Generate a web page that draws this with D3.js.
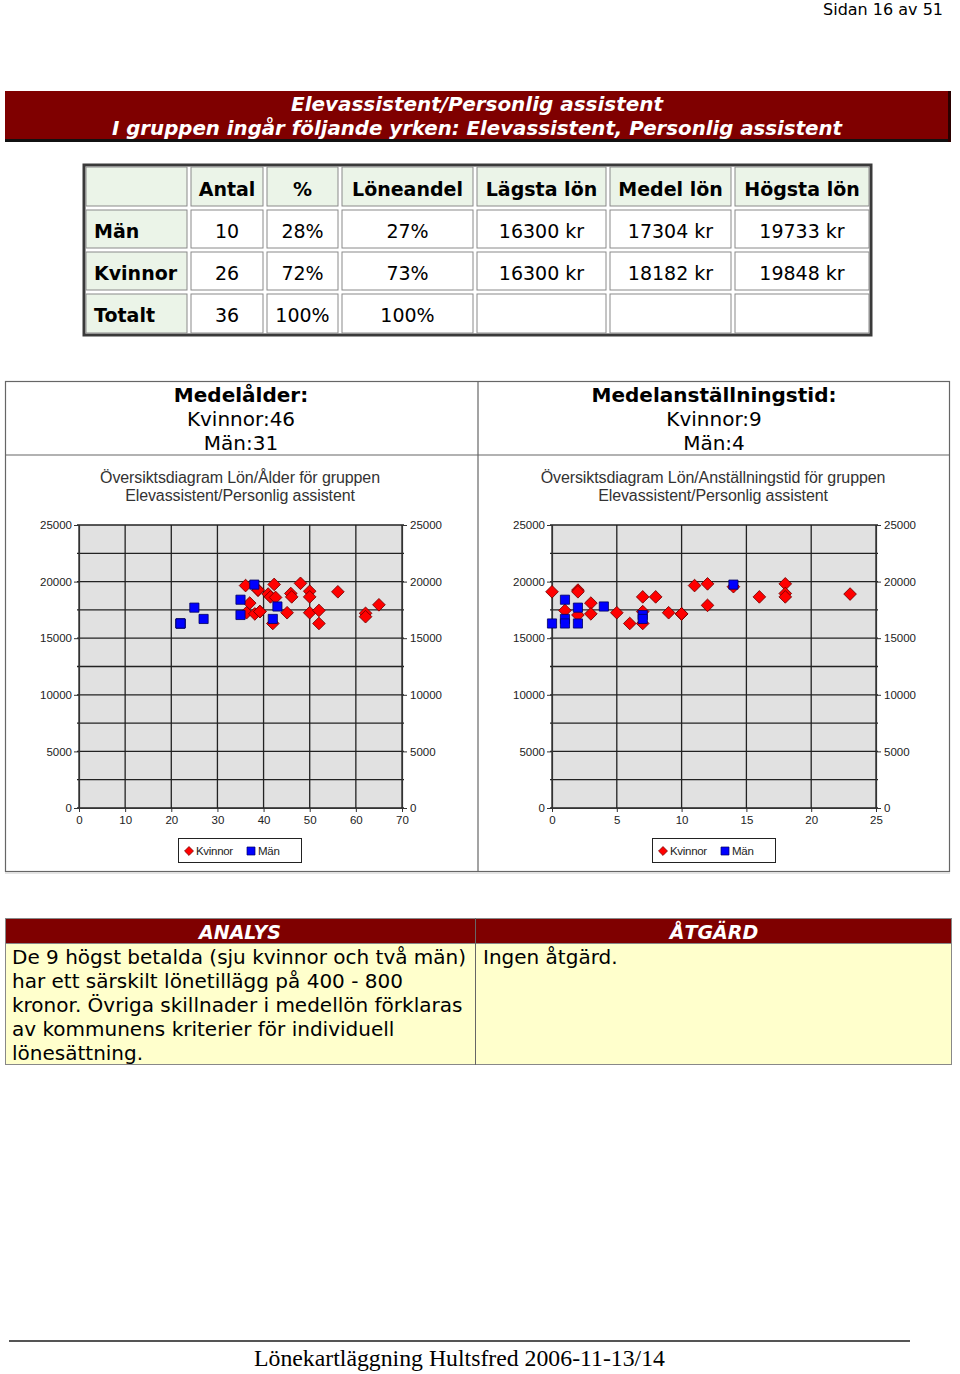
<!DOCTYPE html>
<html><head><meta charset="utf-8">
<script src="https://cdn.jsdelivr.net/npm/d3@7"></script>
<style>body{margin:0;background:#fff;} svg{display:block;}</style>
</head><body>
<script>
// ---------- DATA ----------
const pageLabel = "Sidan 16 av 51";
const headerLines = ["Elevassistent/Personlig assistent", "I gruppen ingår följande yrken: Elevassistent, Personlig assistent"];
const tableCols = ["Antal", "%", "Löneandel", "Lägsta lön", "Medel lön", "Högsta lön"];
const tableRows = ["Män", "Kvinnor", "Totalt"];
const tableMan = ["10", "28%", "27%", "16300 kr", "17304 kr", "19733 kr"];
const tableKvinnor = ["26", "72%", "73%", "16300 kr", "18182 kr", "19848 kr"];
const tableTotalt = ["36", "100%", "100%", "", "", ""];
const ageInfo = ["Medelålder:", "Kvinnor:46", "Män:31"];
const tenureInfo = ["Medelanställningstid:", "Kvinnor:9", "Män:4"];
const ageTitle = ["Översiktsdiagram Lön/Ålder för gruppen", "Elevassistent/Personlig assistent"];
const tenureTitle = ["Översiktsdiagram Lön/Anställningstid för gruppen", "Elevassistent/Personlig assistent"];
const salaryTicks = [0, 5000, 10000, 15000, 20000, 25000];
const ageTicks = [0, 10, 20, 30, 40, 50, 60, 70];
const tenureTicks = [0, 5, 10, 15, 20, 25];
const seriesNames = ["Kvinnor", "Män"];
// Lön/Ålder
const womenAge = [36.1, 37, 36.3, 38.8, 38.1, 39.2, 41, 41.5, 42.3, 42.6, 42, 45.1, 45.9, 46.1, 48, 50, 50, 50, 52, 52, 56.1, 62.1, 62.1, 65, 38.8, 39.2];
const womenAgeSalary = [19650, 18100, 17250, 19250, 17150, 17350, 18900, 18650, 19750, 18600, 16300, 17250, 18950, 18650, 19848, 19150, 18650, 17250, 17450, 16300, 19100, 17200, 16900, 17950, 19250, 17350];
const menAge = [22, 22, 22, 25, 27, 35, 35, 38, 42, 43];
const menAgeSalary = [16300, 16300, 16300, 17700, 16700, 18400, 17050, 19733, 16700, 17800];
// Lön/Anställningstid
const womenTenure = [0, 1, 2, 2, 2, 3, 3, 5, 6, 7, 7, 7, 8, 9, 10, 11, 12, 12, 14, 16, 18, 18, 18, 23, 10, 10];
const womenTenureSalary = [19100, 17450, 19250, 19100, 17050, 18100, 17150, 17250, 16300, 18650, 17350, 16300, 18650, 17250, 17150, 19650, 19800, 17900, 19550, 18650, 19800, 18950, 18650, 18900, 17150, 17150];
const menTenure = [0, 1, 1, 1, 2, 2, 4, 7, 7, 14];
const menTenureSalary = [16300, 18400, 16700, 16300, 17700, 16300, 17800, 17050, 16700, 19733];
const analysHeader = ["ANALYS", "ÅTGÄRD"];
const analysLines = ["De 9 högst betalda (sju kvinnor och två män)", "har ett särskilt lönetillägg på 400 - 800", "kronor. Övriga skillnader i medellön förklaras", "av kommunens kriterier för individuell", "lönesättning."];
const atgardLines = ["Ingen åtgärd."];
const footerText = "Lönekartläggning Hultsfred 2006-11-13/14";

// ---------- DRAW ----------
const SANS = "'DejaVu Sans', Verdana, sans-serif";
const ARIAL = "'Liberation Sans', Arial, sans-serif";
const svg = d3.select("body").append("svg").attr("width", 960).attr("height", 1374);

svg.append("text").attr("x", 943).attr("y", 15).attr("text-anchor", "end")
  .attr("font-family", SANS).attr("font-size", 16).text(pageLabel);

// header band
svg.append("rect").attr("x", 5).attr("y", 91).attr("width", 946).attr("height", 50).attr("fill", "#7f0000");
svg.append("rect").attr("x", 5).attr("y", 139).attr("width", 946).attr("height", 3).attr("fill", "#111");
svg.append("rect").attr("x", 948).attr("y", 91).attr("width", 3).attr("height", 51).attr("fill", "#2a0000");
const hdrW = [372, 730];
headerLines.forEach((t, i) => {
  svg.append("text").attr("x", 477).attr("y", 111 + i * 24).attr("text-anchor", "middle")
    .attr("font-family", SANS).attr("font-weight", "bold").attr("font-style", "italic")
    .attr("font-size", 19).attr("fill", "#fff")
    .attr("textLength", hdrW[i]).attr("lengthAdjust", "spacingAndGlyphs").text(t);
});

// table
const colX = [84, 189, 265, 340, 475, 608, 733, 871];
const rowY = [165, 208, 250, 292, 335];
const green = "#ebf4e8";
const tbl = svg.append("g");
tbl.append("rect").attr("x", 84).attr("y", 165).attr("width", 787).attr("height", 170)
  .attr("fill", "#fff").attr("stroke", "#3a3a3a").attr("stroke-width", 3);
const bodyVals = [tableMan, tableKvinnor, tableTotalt];
for (let r = 0; r < 4; r++) {
  for (let c = 0; c < 7; c++) {
    const fill = (r === 0 || c === 0) ? green : "#fff";
    tbl.append("rect").attr("x", colX[c] + 2).attr("y", rowY[r] + 2)
      .attr("width", colX[c + 1] - colX[c] - 4).attr("height", rowY[r + 1] - rowY[r] - 4)
      .attr("fill", fill).attr("stroke", "#8a8a8a").attr("stroke-width", 1);
  }
}
tableCols.forEach((t, i) => {
  tbl.append("text").attr("x", (colX[i + 1] + colX[i + 2]) / 2).attr("y", 196).attr("text-anchor", "middle")
    .attr("font-family", SANS).attr("font-weight", "bold").attr("font-size", 19).text(t);
});
tableRows.forEach((t, r) => {
  tbl.append("text").attr("x", 94).attr("y", 238 + r * 42)
    .attr("font-family", SANS).attr("font-weight", "bold").attr("font-size", 19).text(t);
  bodyVals[r].forEach((v, c) => {
    tbl.append("text").attr("x", (colX[c + 1] + colX[c + 2]) / 2).attr("y", 238 + r * 42).attr("text-anchor", "middle")
      .attr("font-family", SANS).attr("font-size", 19).text(v);
  });
});

// info + chart section
const sec = svg.append("g");
sec.append("rect").attr("x", 5.5).attr("y", 381.5).attr("width", 944).attr("height", 490)
  .attr("fill", "#fff").attr("stroke", "#666").attr("stroke-width", 1.2);
sec.append("line").attr("x1", 478).attr("x2", 478).attr("y1", 381).attr("y2", 872).attr("stroke", "#666").attr("stroke-width", 1.2);
sec.append("line").attr("x1", 5).attr("x2", 950).attr("y1", 455).attr("y2", 455).attr("stroke", "#666").attr("stroke-width", 1.2);
sec.append("line").attr("x1", 5).attr("x2", 950).attr("y1", 873).attr("y2", 873).attr("stroke", "#ddd").attr("stroke-width", 1.5);
[[ageInfo, 241], [tenureInfo, 714]].forEach(([lines, cx]) => {
  lines.forEach((t, i) => {
    sec.append("text").attr("x", cx).attr("y", 402 + i * 24).attr("text-anchor", "middle")
      .attr("font-family", SANS).attr("font-size", 20).attr("font-weight", i === 0 ? "bold" : "normal").text(t);
  });
});

function drawChart(cfg) {
  const g = svg.append("g");
  const x = d3.scaleLinear().domain(cfg.xDomain).range([cfg.x0, cfg.x1]);
  const y = d3.scaleLinear().domain([0, 25000]).range([808, 525]);
  cfg.title.forEach((t, i) => {
    g.append("text").attr("x", cfg.tx).attr("y", 483 + i * 18).attr("text-anchor", "middle")
      .attr("font-family", ARIAL).attr("font-size", 16).attr("letter-spacing", -0.1).attr("fill", "#333").text(t);
  });
  g.append("rect").attr("x", cfg.x0).attr("y", 525).attr("width", cfg.x1 - cfg.x0).attr("height", 283).attr("fill", "#e1e1e1");
  const hg = d3.range(0, 25001, 2500);
  g.selectAll(".hg").data(hg).join("line")
    .attr("x1", cfg.x0 - 2).attr("x2", cfg.x1 + 2).attr("y1", d => y(d)).attr("y2", d => y(d))
    .attr("stroke", "#222").attr("stroke-width", 1.3);
  g.selectAll(".vg").data(cfg.xTicks).join("line")
    .attr("x1", d => x(d)).attr("x2", d => x(d)).attr("y1", 525).attr("y2", 808)
    .attr("stroke", "#222").attr("stroke-width", 1.3);
  const axisStyle = sel => {
    sel.selectAll("text").attr("font-family", ARIAL).attr("font-size", 11.5).attr("fill", "#222");
    sel.selectAll("line").attr("stroke", "#333");
    sel.select(".domain").attr("stroke", "#333").attr("stroke-width", 1.2);
  };
  const fmt = d3.format("d");
  g.append("g").attr("transform", `translate(${cfg.x0},0)`)
    .call(d3.axisLeft(y).tickValues(salaryTicks).tickFormat(fmt).tickSize(5).tickSizeOuter(0).tickPadding(2)).call(axisStyle);
  g.append("g").attr("transform", `translate(${cfg.x1},0)`)
    .call(d3.axisRight(y).tickValues(salaryTicks).tickFormat(fmt).tickSize(5).tickSizeOuter(0).tickPadding(3)).call(axisStyle);
  g.append("g").attr("transform", `translate(0,808)`)
    .call(d3.axisBottom(x).tickValues(cfg.xTicks).tickFormat(fmt).tickSize(4).tickSizeOuter(0).tickPadding(4)).call(axisStyle);
  const diamond = d3.symbol().type(d3.symbolSquare).size(80)();
  const square = d3.symbol().type(d3.symbolSquare).size(84)();
  g.selectAll(".w").data(cfg.wx.map((v, i) => [v, cfg.wy[i]])).join("path")
    .attr("d", diamond).attr("transform", d => `translate(${x(d[0])},${y(d[1])}) rotate(45)`)
    .attr("fill", "#ff0000").attr("stroke", "#700000").attr("stroke-width", 0.8);
  g.selectAll(".m").data(cfg.mx.map((v, i) => [v, cfg.my[i]])).join("path")
    .attr("d", square).attr("transform", d => `translate(${x(d[0])},${y(d[1])})`)
    .attr("fill", "#0000ff").attr("stroke", "#000060").attr("stroke-width", 0.8);
  const lg = g.append("g").attr("transform", `translate(${cfg.lx},838)`);
  lg.append("rect").attr("x", 0.5).attr("y", 0.5).attr("width", 123).attr("height", 24)
    .attr("fill", "#fff").attr("stroke", "#222").attr("stroke-width", 1);
  lg.append("path").attr("d", d3.symbol().type(d3.symbolSquare).size(40)())
    .attr("transform", "translate(11,13) rotate(45)").attr("fill", "#ff0000").attr("stroke", "#700000").attr("stroke-width", 0.7);
  lg.append("text").attr("x", 18).attr("y", 17).attr("font-family", ARIAL).attr("font-size", 11.5)
    .attr("letter-spacing", -0.3).attr("fill", "#222").text(seriesNames[0]);
  lg.append("path").attr("d", d3.symbol().type(d3.symbolSquare).size(64)())
    .attr("transform", "translate(73,13)").attr("fill", "#0000ff").attr("stroke", "#000060").attr("stroke-width", 0.7);
  lg.append("text").attr("x", 80).attr("y", 17).attr("font-family", ARIAL).attr("font-size", 11.5)
    .attr("letter-spacing", -0.3).attr("fill", "#222").text(seriesNames[1]);
}

drawChart({ xDomain: [0, 70], x0: 79, x1: 402, xTicks: ageTicks, title: ageTitle, tx: 240, lx: 178,
  wx: womenAge, wy: womenAgeSalary, mx: menAge, my: menAgeSalary });
drawChart({ xDomain: [0, 25], x0: 552, x1: 876, xTicks: tenureTicks, title: tenureTitle, tx: 713, lx: 652,
  wx: womenTenure, wy: womenTenureSalary, mx: menTenure, my: menTenureSalary });

// analysis table
const an = svg.append("g");
an.append("rect").attr("x", 5).attr("y", 943).attr("width", 947).attr("height", 122).attr("fill", "#ffffcc");
an.append("rect").attr("x", 5).attr("y", 918).attr("width", 947).attr("height", 25).attr("fill", "#7f0000");
an.append("rect").attr("x", 5.5).attr("y", 918.5).attr("width", 946).attr("height", 146)
  .attr("fill", "none").attr("stroke", "#888").attr("stroke-width", 1);
an.append("line").attr("x1", 5).attr("x2", 952).attr("y1", 943.5).attr("y2", 943.5).attr("stroke", "#888");
an.append("line").attr("x1", 475.5).attr("x2", 475.5).attr("y1", 918).attr("y2", 1065).attr("stroke", "#666");
[[analysHeader[0], 240], [analysHeader[1], 714]].forEach(([t, cx]) => {
  an.append("text").attr("x", cx).attr("y", 939).attr("text-anchor", "middle")
    .attr("font-family", SANS).attr("font-weight", "bold").attr("font-style", "italic")
    .attr("font-size", 19).attr("fill", "#fff").text(t);
});
analysLines.forEach((t, i) => {
  an.append("text").attr("x", 12).attr("y", 964 + i * 24).attr("font-family", SANS).attr("font-size", 20).text(t);
});
atgardLines.forEach((t, i) => {
  an.append("text").attr("x", 483).attr("y", 964 + i * 24).attr("font-family", SANS).attr("font-size", 20).text(t);
});

// footer
svg.append("line").attr("x1", 9).attr("x2", 910).attr("y1", 1341).attr("y2", 1341).attr("stroke", "#555").attr("stroke-width", 2);
svg.append("text").attr("x", 254).attr("y", 1366).attr("font-family", "'Liberation Serif', 'Times New Roman', serif")
  .attr("font-size", 23).attr("textLength", 411).attr("lengthAdjust", "spacingAndGlyphs").text(footerText);
</script>
</body></html>
